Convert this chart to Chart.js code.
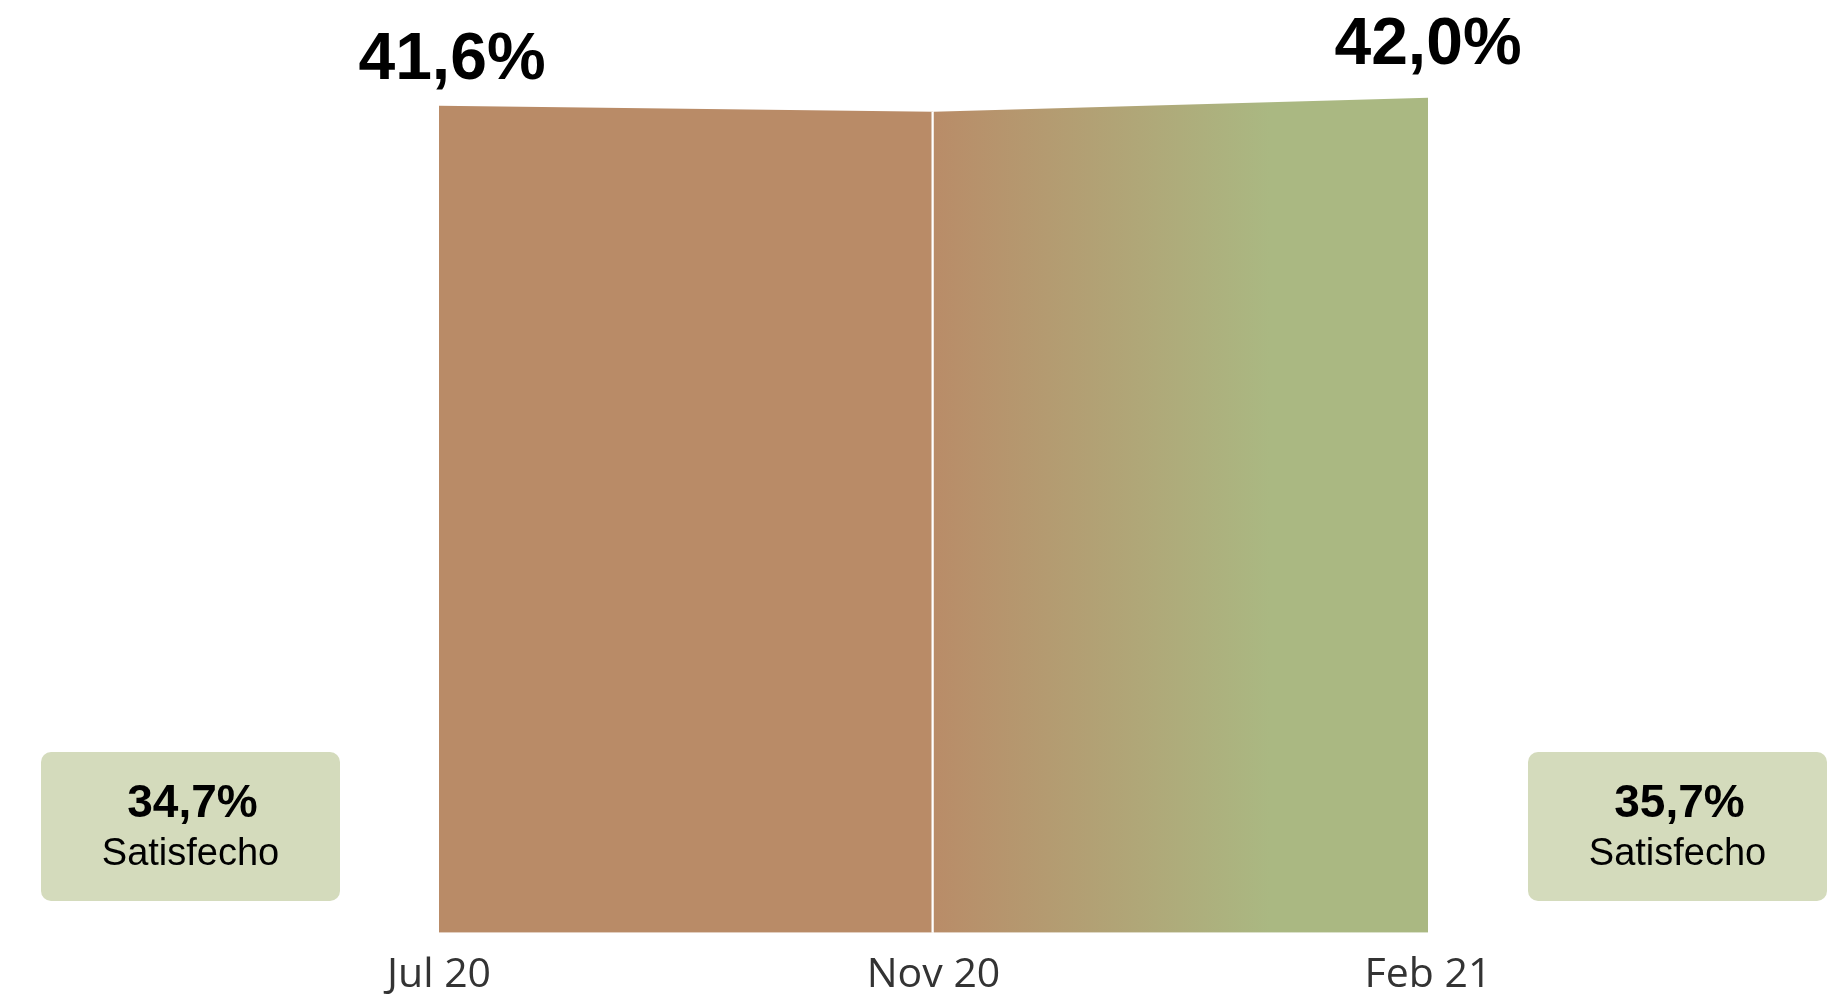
<!DOCTYPE html>
<html>
<head>
<meta charset="utf-8">
<script src="https://cdn.jsdelivr.net/npm/chart.js@4"></script>
<style>
  html, body { margin: 0; padding: 0; background: #fff; }
  #wrap { width: 1846px; height: 996px; }
</style>
</head>
<body>
<div id="wrap"><canvas id="satChart" width="1846" height="996"></canvas></div>
<script>
// Satisfaction data
const periods = ['Jul 20', 'Nov 20', 'Feb 21'];
const satValues = [41.6, 41.3, 42.0];
const topLabels = ['41,6%', '', '42,0%'];
const sideValues = ['34,7%', '35,7%'];
const sideCaption = ['Satisfecho', 'Satisfecho'];

const brown = '#b98b67';
const green = '#aab882';

// first segment solid, second fades to green
const firstPart = satValues.map((v, i) => i <= 1 ? v : null);
const secondPart = satValues.map((v, i) => i >= 1 ? v : null);

function greenFade(context) {
    const chart = context.chart;
    const area = chart.chartArea;
    if (!area) return brown;
    const xs = chart.scales.x;
    const x0 = xs.getPixelForValue(1);
    const x1 = xs.getPixelForValue(2);
    const g = chart.ctx.createLinearGradient(x0, 0, x1, 0);
    g.addColorStop(0, '#b98c68');
    g.addColorStop(0.68, green);
    g.addColorStop(1, green);
    return g;
}

const extrasPlugin = {
    id: 'extras',
    afterDatasetsDraw(chart) {
        const ctx = chart.ctx;
        const xs = chart.scales.x, ys = chart.scales.y;
        const area = chart.chartArea;

        // divider at Nov 20
        const mx = xs.getPixelForValue(1);
        ctx.save();
        ctx.strokeStyle = '#ffffff';
        ctx.lineWidth = 2;
        ctx.beginPath();
        ctx.moveTo(mx - 1, ys.getPixelForValue(satValues[1]));
        ctx.lineTo(mx - 1, area.bottom);
        ctx.stroke();

        // value labels above the area
        ctx.fillStyle = '#000';
        ctx.font = 'bold 66px "Liberation Sans", Arial, sans-serif';
        ctx.textAlign = 'center';
        ctx.textBaseline = 'alphabetic';
        const nudge = [[13, -27], [0, 0], [0, -34]];
        topLabels.forEach((t, i) => {
            if (!t) return;
            const px = xs.getPixelForValue(i);
            const py = ys.getPixelForValue(satValues[i]);
            ctx.fillText(t, px + nudge[i][0], py + nudge[i][1]);
        });

        // side boxes
        const boxes = [{ x: 41, y: 752 }, { x: 1528, y: 752 }];
        boxes.forEach((b, i) => {
            const w = 299, h = 149;
            ctx.fillStyle = '#d4dbbc';
            ctx.beginPath();
            ctx.roundRect(b.x, b.y, w, h, 10);
            ctx.fill();
            ctx.fillStyle = '#000';
            ctx.textAlign = 'center';
            ctx.font = 'bold 46px "Liberation Sans", Arial, sans-serif';
            ctx.fillText(sideValues[i], b.x + w / 2 + 2, 817);
            ctx.font = '38px "Liberation Sans", Arial, sans-serif';
            ctx.fillText(sideCaption[i], b.x + w / 2, 865);
        });
        ctx.restore();
    }
};

const ctx = document.getElementById('satChart').getContext('2d');
new Chart(ctx, {
    type: 'line',
    data: {
        labels: periods,
        datasets: [{
            data: firstPart,
            backgroundColor: brown,
            borderWidth: 0,
            pointRadius: 0,
            fill: 'origin',
            tension: 0
        }, {
            data: secondPart,
            backgroundColor: greenFade,
            borderWidth: 0,
            pointRadius: 0,
            fill: 'origin',
            tension: 0
        }]
    },
    options: {
        responsive: false,
        animation: false,
        layout: { padding: { left: 439, right: 418, top: 58, bottom: -22 } },
        plugins: {
            legend: { display: false },
            tooltip: { enabled: false }
        },
        scales: {
            x: {
                offset: false,
                grid: { display: false, drawTicks: false },
                border: { display: false },
                ticks: {
                    color: '#333333',
                    padding: 18,
                    maxRotation: 0,
                    autoSkip: false,
                    font: { family: '"Open Sans", sans-serif', size: 41 }
                }
            },
            y: {
                display: false,
                min: 0,
                max: 44
            }
        }
    },
    plugins: [extrasPlugin]
});
</script>
</body>
</html>
